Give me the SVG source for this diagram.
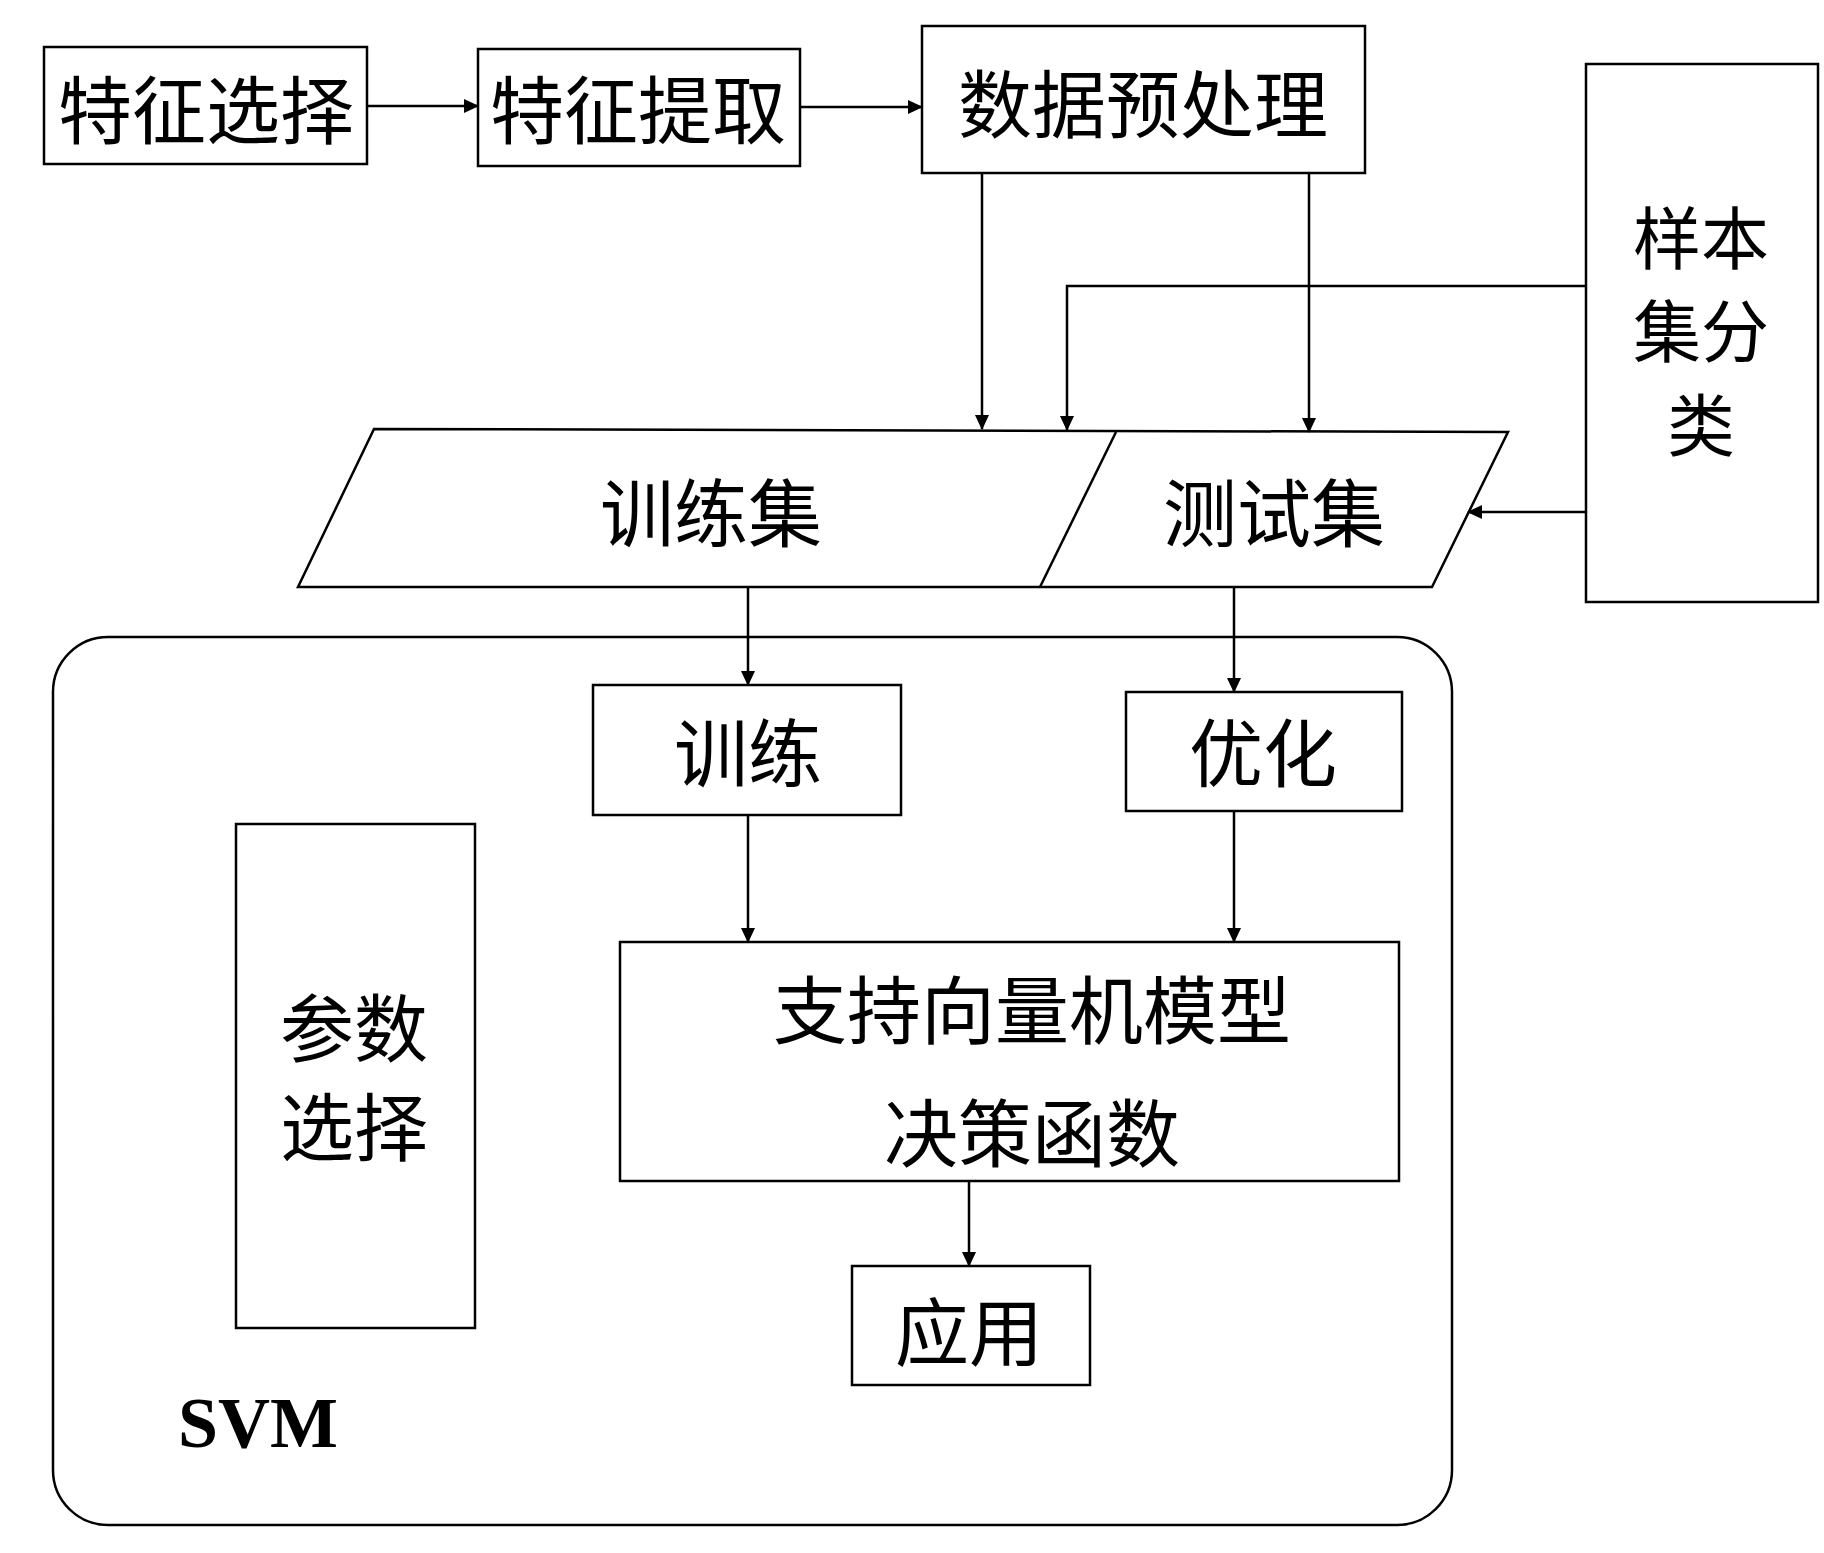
<svg xmlns="http://www.w3.org/2000/svg" width="1824" height="1553" viewBox="0 0 1824 1553">
<defs>
<marker id="a" markerWidth="16" markerHeight="16" refX="14" refY="8" orient="auto" markerUnits="userSpaceOnUse"><path d="M0,1 L15,8 L0,15 Z" fill="#000"/></marker>
</defs>
<style>
.b{fill:#fff;stroke:#000;stroke-width:2.5}
.t{font-family:"Noto Sans CJK SC","Liberation Serif",serif;font-size:74px;text-anchor:middle;dominant-baseline:central;fill:#000}
.s{font-size:68px}
.c{fill:none;stroke:#000;stroke-width:2.5}
</style>
<rect width="1824" height="1553" fill="#fff"/>
<g id="svm"><rect class="b" x="53" y="637" width="1399" height="888" rx="55"/>
<text x="178" y="1447" font-family="Liberation Serif,serif" font-weight="bold" font-size="72">SVM</text></g>
<g id="n1"><rect class="b" x="44" y="47" width="323" height="117"/><text class="t" x="206" y="105">特征选择</text></g>
<g id="n2"><rect class="b" x="478" y="49" width="322" height="117"/><text class="t" x="638" y="105">特征提取</text></g>
<g id="n3"><rect class="b" x="922" y="26" width="443" height="147"/><text class="t" x="1143" y="99">数据预处理</text></g>
<g id="n4"><rect class="b" x="1586" y="64" width="232" height="538"/><text class="t s" x="1701" y="234">样本</text><text class="t s" x="1701" y="327">集分</text><text class="t s" x="1701" y="421">类</text></g>
<g id="sets"><path class="b" d="M374,429 L1508,432 L1432,587 L298,587 Z"/><path class="c" d="M1116,432 L1040,587"/>
<text class="t" x="711" y="508">训练集</text><text class="t" x="1274" y="508">测试集</text></g>
<g id="n5"><rect class="b" x="593" y="685" width="308" height="130"/><text class="t" x="748" y="748">训练</text></g>
<g id="n6"><rect class="b" x="1126" y="692" width="276" height="119"/><text class="t" x="1263" y="748">优化</text></g>
<g id="n7"><rect class="b" x="236" y="824" width="239" height="504"/><text class="t" x="354" y="1023">参数</text><text class="t" x="354" y="1122">选择</text></g>
<g id="n8"><rect class="b" x="620" y="942" width="779" height="239"/><text class="t" x="1032" y="1005">支持向量机模型</text><text class="t" x="1032" y="1128">决策函数</text></g>
<g id="n9"><rect class="b" x="852" y="1266" width="238" height="119"/><text class="t" x="969" y="1327">应用</text></g>
<g id="connectors" class="c" marker-end="url(#a)">
<path d="M367,106 H478"/>
<path d="M800,107 H922"/>
<path d="M982,173 V429"/>
<path d="M1309,173 V432"/>
<path d="M1586,286 H1067 V430"/>
<path d="M1586,512 H1468"/>
<path d="M748,587 V685"/>
<path d="M1234,587 V692"/>
<path d="M748,815 V942"/>
<path d="M1234,811 V942"/>
<path d="M969,1181 V1266"/>
</g>
</svg>
